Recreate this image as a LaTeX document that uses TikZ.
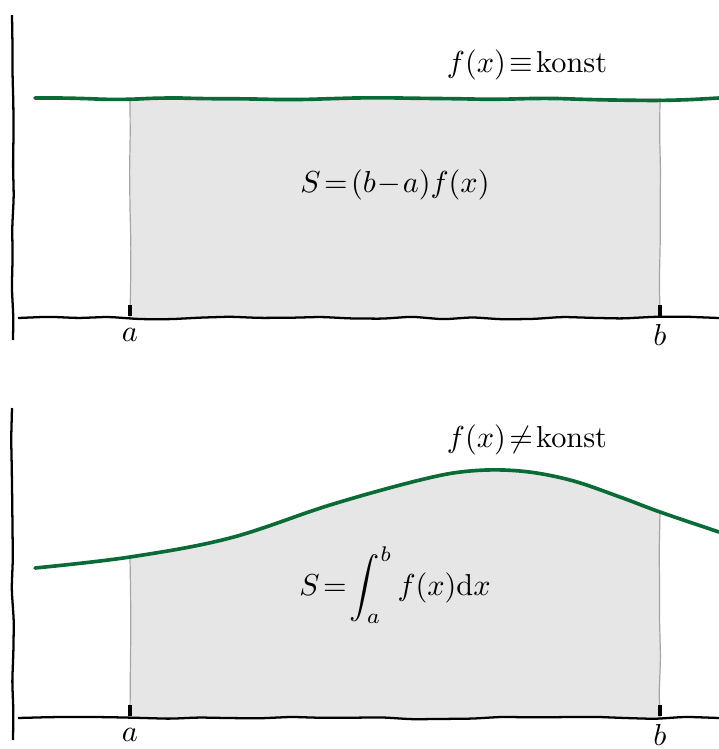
\documentclass[tikz,border=0pt]{standalone}
\usepackage{amsmath}
\usepackage{xcolor}
\usetikzlibrary{decorations.pathmorphing}
\definecolor{kurve}{HTML}{0B6B36}
\definecolor{flaeche}{HTML}{E6E6E6}

\begin{document}
\begin{tikzpicture}[x=0.33pt, y=-0.33pt]
        % Define drawing styles for the hand drawn look
        \tikzstyle{achse} = [line width=0.75pt, decorate, rounded corners=2pt,
                             decoration={random steps, segment length=10pt, amplitude=0.45pt}]
        \tikzstyle{rand} = [gray!70, line width=0.4pt, decorate, rounded corners=2pt,
                            decoration={random steps, segment length=12pt, amplitude=0.3pt}]
        \tikzstyle{kurvelinie} = [kurve, line width=1.2pt, line cap=round]
        \tikzstyle{marke} = [fill=black]
        \tikzstyle{beschriftung} = [inner sep=1pt]
        \pgfmathsetseed{7}
        \useasboundingbox (0,0) rectangle (719,749);

        % Upper panel: constant function
        \fill [flaeche] (130,98) rectangle (660,318);
        \draw [rand] (130,98) -- (130,318);
        \draw [rand] (660,98) -- (660,318);
        \draw [achse] (12,15) -- (13,340);
        \draw [achse] (18,318) -- (719,318);
        \draw [kurvelinie, decorate, rounded corners=8pt,
               decoration={random steps, segment length=14pt, amplitude=0.9pt}] (35,98) -- (719,98);
        \fill [marke] (128,305) rectangle (132,316);
        \fill [marke] (658,305) rectangle (662,316);
        \node (a1) [beschriftung] at (130,335) {$a$};
        \node (b1) [beschriftung] at (660,335) {$b$};
        \node (f1) [beschriftung] at (527,65) {$f(x)\!\equiv\!\mathrm{konst}$};
        \node (s1) [beschriftung] at (395,185) {$S\!=\!(b\!-\!a)f(x)$};

        % Lower panel: variable function
        \begin{scope}
            \clip (130,400) rectangle (660,718);
            \fill [flaeche] plot [smooth, tension=0.6] coordinates {(35,568) (130,557) (230,538)
                (330,505) (420,480) (470,471) (520,471) (570,480) (620,497) (660,512) (719,532)}
                -- (719,718) -- (35,718) -- cycle;
        \end{scope}
        \draw [rand] (130,557) -- (130,718);
        \draw [rand] (660,512) -- (660,718);
        \draw [achse] (12,408) -- (13,740);
        \draw [achse] (18,718) -- (719,718);
        \draw [kurvelinie] plot [smooth, tension=0.6] coordinates {(35,568) (130,557) (230,538)
                (330,505) (420,480) (470,471) (520,471) (570,480) (620,497) (660,512) (719,532)};
        \fill [marke] (128,705) rectangle (132,716);
        \fill [marke] (658,705) rectangle (662,716);
        \node (a2) [beschriftung] at (130,735) {$a$};
        \node (b2) [beschriftung] at (660,735) {$b$};
        \node (f2) [beschriftung] at (527,440) {$f(x)\!\neq\!\mathrm{konst}$};
        \node (s2) [beschriftung] at (395,585) {$S\!=\!\displaystyle\int_a^b f(x)\mathrm{d}x$};
    \end{tikzpicture}
\end{document}
